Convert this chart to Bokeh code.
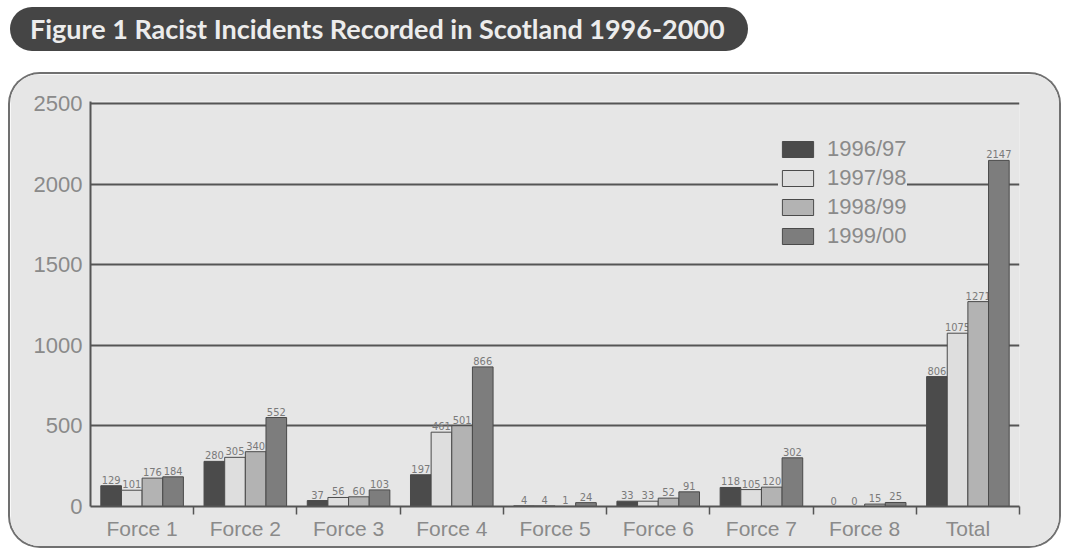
from bokeh.plotting import figure
from bokeh.layouts import column
from bokeh.models import (Range1d, FixedTicker, Legend, LegendItem, ColumnDataSource, Div)
from bokeh.core.properties import value
from bokeh.embed import file_html
from bokeh.resources import INLINE

categories = ["Force 1", "Force 2", "Force 3", "Force 4", "Force 5", "Force 6", "Force 7", "Force 8", "Total"]
series_names = ["1996/97", "1997/98", "1998/99", "1999/00"]
v_1996_97 = [129, 280, 37, 197, 4, 33, 118, 0, 806]
v_1997_98 = [101, 305, 56, 461, 4, 33, 105, 0, 1075]
v_1998_99 = [176, 340, 60, 501, 1, 52, 120, 15, 1271]
v_1999_00 = [184, 552, 103, 866, 24, 91, 302, 25, 2147]
y_ticks = [0, 500, 1000, 1500, 2000, 2500]
title_text = "Figure 1 Racist Incidents Recorded in Scotland 1996-2000"

series_values = [v_1996_97, v_1997_98, v_1998_99, v_1999_00]
colors = ["#4b4b4b", "#dedede", "#b3b3b3", "#7d7d7d"]
offsets = [-0.3, -0.1, 0.1, 0.3]

PANEL = "#e6e6e6"
TXT = "#8a8a8a"
FONT = "Liberation Sans"

# ---- title pill ----
tf = Div(text=title_text, width=738, height=44, margin=(7, 0, 0, 10),
         styles={"background-color": "#454545", "border-radius": "22px",
                 "color": "#ececec", "font-family": "Lato", "font-weight": "bold",
                 "font-size": "27px", "line-height": "44px", "padding-left": "20px",
                 "box-sizing": "border-box", "white-space": "nowrap", "overflow": "hidden"})

# ---- main chart ----
p = figure(width=1049, height=472, output_backend="svg", toolbar_location=None,
           x_range=Range1d(0, len(categories)), y_range=Range1d(0, 2512.4),
           min_border_left=80, min_border_right=40, min_border_top=27, min_border_bottom=40,
           background_fill_color=PANEL, border_fill_color=PANEL, outline_line_color=None,
           margin=(23, 0, 0, 10))
p.styles = {"border-radius": "30px", "overflow": "hidden",
            "box-shadow": "0 0 0 2px #707070"}

# grid
p.xgrid.visible = False
p.ygrid.ticker = FixedTicker(ticks=[500, 1000, 1500, 2000, 2500])
p.ygrid.grid_line_color = "#555555"
p.ygrid.grid_line_width = 2

# bars
legend_items = []
for i, (name, vals) in enumerate(zip(series_names, series_values)):
    xs = [k + 0.5 + offsets[i] for k in range(len(categories))]
    src = ColumnDataSource(dict(x=xs, top=vals, lab=[str(v) for v in vals]))
    r = p.vbar(x="x", top="top", width=0.2, source=src, fill_color=colors[i],
               line_color="#4a4a4a", line_width=1)
    p.text(x="x", y="top", text="lab", source=src, text_font=value("DejaVu Sans Condensed"),
           text_font_size="11px", text_color="#7a7a7a", text_align="center",
           text_baseline="bottom", y_offset=-2)
    legend_items.append(LegendItem(label=name, renderers=[r]))

legend = Legend(items=legend_items, location=(688, 257), glyph_width=39, glyph_height=20,
                label_height=20, spacing=3, padding=6, margin=0, label_standoff=10,
                label_text_font=FONT, label_text_font_size="22px", label_text_color=TXT,
                background_fill_color=PANEL, background_fill_alpha=1, border_line_color=None)
p.add_layout(legend)

# axes
p.yaxis.ticker = FixedTicker(ticks=y_ticks)
p.yaxis.axis_line_color = "#555555"
p.yaxis.axis_line_width = 2
p.yaxis.major_tick_line_color = None
p.yaxis.major_tick_out = 0
p.yaxis.minor_tick_line_color = None
p.yaxis.major_label_text_font = FONT
p.yaxis.major_label_text_font_size = "22px"
p.yaxis.major_label_text_color = TXT
p.yaxis.major_label_standoff = 8

p.xaxis.ticker = FixedTicker(ticks=[k + 0.5 for k in range(len(categories))],
                             minor_ticks=list(range(1, len(categories) + 1)))
p.xaxis.major_label_overrides = {k + 0.5: c for k, c in enumerate(categories)}
p.xaxis.axis_line_color = "#555555"
p.xaxis.axis_line_width = 2
p.xaxis.major_tick_line_color = None
p.xaxis.major_tick_out = 0
p.xaxis.minor_tick_line_color = "#555555"
p.xaxis.minor_tick_line_width = 1.5
p.xaxis.minor_tick_out = 8
p.xaxis.minor_tick_in = 0
p.xaxis.major_label_text_font = FONT
p.xaxis.major_label_text_font_size = "21px"
p.xaxis.major_label_text_color = TXT
p.xaxis.major_label_standoff = 2

layout = column(tf, p, spacing=0)
open("out.html", "w").write(file_html(layout, INLINE))
